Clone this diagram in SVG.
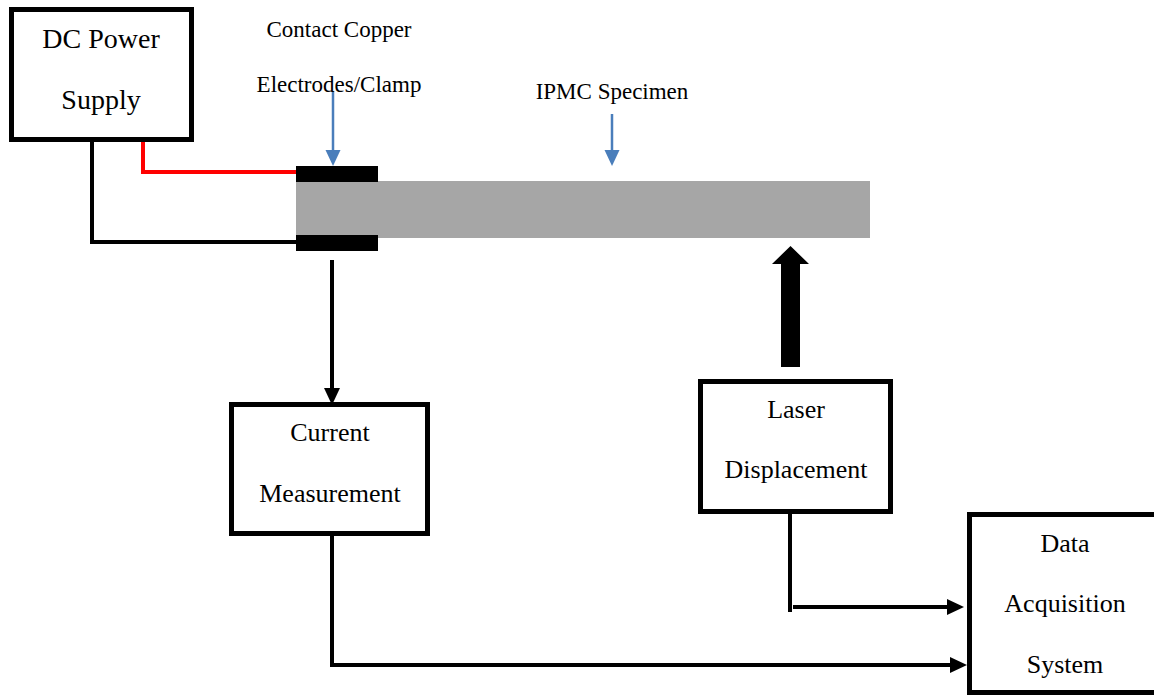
<svg xmlns="http://www.w3.org/2000/svg" width="1154" height="696" viewBox="0 0 1154 696">
<style>
.box{fill:#fff;stroke:#000;stroke-width:5}
.lbl{font-family:"Liberation Serif","Times New Roman",serif;fill:#000;text-anchor:middle}
.wire{fill:none;stroke:#000;stroke-width:4}
.blue{fill:none;stroke:#4a7ebb;stroke-width:2.5}
</style>
<defs>
<marker id="ah" markerUnits="userSpaceOnUse" markerWidth="18" markerHeight="16" refX="0" refY="8" orient="auto" overflow="visible">
<path d="M0,0 L17,8 L0,16 Z" fill="#000"/>
</marker>
<marker id="bh" markerUnits="userSpaceOnUse" markerWidth="16" markerHeight="16" refX="0" refY="7.5" orient="auto" overflow="visible">
<path d="M0,0 L16,7.5 L0,15 Z" fill="#4a7ebb"/>
</marker>
</defs>
<rect width="1154" height="696" fill="#fff"/>
<g id="specimen">
<rect x="296" y="181" width="574" height="57" fill="#a6a6a6"/>
</g>
<g id="clamp">
<rect x="296" y="166" width="82" height="16" fill="#000"/>
<rect x="296" y="235" width="82" height="16" fill="#000"/>
</g>
<g id="connectors">
<polyline points="143,142 143,172 296,172" fill="none" stroke="#f00" stroke-width="4"/>
<polyline class="wire" points="92,142 92,242 296,242"/>
<line class="wire" x1="332" y1="260" x2="332" y2="388" marker-end="url(#ah)"/>
<polyline class="wire" points="332,536 332,665 950,665" marker-end="url(#ah)"/>
<line class="wire" x1="790" y1="514" x2="790" y2="612"/>
<line class="wire" x1="793" y1="607" x2="947" y2="607" marker-end="url(#ah)"/>
<polygon points="781,367 800,367 800,264 809,264 790.5,246 772,264 781,264" fill="#000"/>
<line class="blue" x1="333" y1="92" x2="333" y2="150" marker-end="url(#bh)"/>
<line class="blue" x1="612" y1="114" x2="612" y2="150" marker-end="url(#bh)"/>
</g>
<g id="dc-power">
<rect class="box" x="11.5" y="9.5" width="180" height="130"/>
<text class="lbl" x="101" y="48" font-size="28">DC Power</text>
<text class="lbl" x="101" y="109" font-size="28">Supply</text>
</g>
<g id="clamp-label">
<text class="lbl" x="339" y="37" font-size="23">Contact Copper</text>
<text class="lbl" x="339" y="92" font-size="23">Electrodes/Clamp</text>
</g>
<g id="specimen-label">
<text class="lbl" x="612" y="99" font-size="23">IPMC Specimen</text>
</g>
<g id="current">
<rect class="box" x="231.5" y="404.5" width="196" height="129"/>
<text class="lbl" x="330" y="441" font-size="26">Current</text>
<text class="lbl" x="330" y="502" font-size="26">Measurement</text>
</g>
<g id="laser">
<rect class="box" x="700.5" y="381.5" width="190" height="130"/>
<text class="lbl" x="796" y="418" font-size="26">Laser</text>
<text class="lbl" x="796" y="478" font-size="26">Displacement</text>
</g>
<g id="daq">
<rect class="box" x="969.5" y="514.5" width="200" height="178"/>
<text class="lbl" x="1065" y="552" font-size="26">Data</text>
<text class="lbl" x="1065" y="612" font-size="26">Acquisition</text>
<text class="lbl" x="1065" y="673" font-size="26">System</text>
</g>
</svg>
